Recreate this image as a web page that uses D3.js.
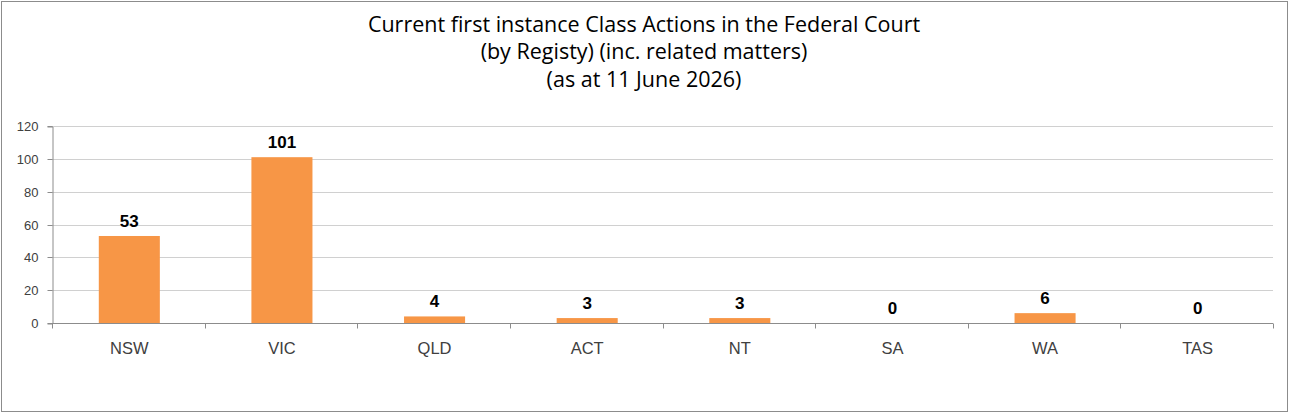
<!DOCTYPE html>
<html>
<head>
<meta charset="utf-8">
<script src="https://cdn.jsdelivr.net/npm/d3@7"></script>
<style>
  body { margin: 0; background: #fff; }
</style>
</head>
<body>
<div class="container"></div>
<script>
// registries and their current class action counts
const registries = ['NSW', 'VIC', 'QLD', 'ACT', 'NT', 'SA', 'WA', 'TAS'];
const counts = [53, 101, 4, 3, 3, 0, 6, 0];
const yTicks = [0, 20, 40, 60, 80, 100, 120];
const titleLines = [
  'Current first instance Class Actions in the Federal Court',
  '(by Registy) (inc. related matters)',
  '(as at 11 June 2026)'
];

const width = 1289, height = 413;
const margin = { top: 126, right: 16, bottom: 90, left: 52 };

const svg = d3.select('.container')
  .append('svg')
  .attr('width', width)
  .attr('height', height);

// chart frame
svg.append('rect')
  .attr('x', 1.5).attr('y', 1.5)
  .attr('width', width - 3).attr('height', height - 3)
  .attr('fill', '#fff')
  .attr('stroke', '#8c8c8c');

// title
svg.append('g')
  .selectAll('text')
  .data(titleLines)
  .join('text')
  .attr('x', 644)
  .attr('y', (d, i) => 31.5 + i * 27.5)
  .attr('text-anchor', 'middle')
  .attr('font-family', 'Open Sans, sans-serif')
  .attr('font-size', 21.5)
  .attr('fill', '#000')
  .text(d => d);

const x = d3.scaleBand()
  .domain(registries)
  .range([margin.left, width - margin.right])
  .paddingInner(0.6)
  .paddingOuter(0.3);

const xOuter = d3.scaleBand()
  .domain(registries)
  .range([margin.left, width - margin.right]);

const y = d3.scaleLinear()
  .domain([0, 120])
  .range([height - margin.bottom, margin.top]);

// gridlines
svg.append('g')
  .selectAll('line')
  .data(yTicks.slice(1))
  .join('line')
  .attr('x1', margin.left).attr('x2', width - margin.right)
  .attr('y1', d => Math.round(y(d)) + 0.5).attr('y2', d => Math.round(y(d)) + 0.5)
  .attr('stroke', '#d0d0d0');

// y axis
const yAxis = svg.append('g')
  .attr('transform', `translate(${margin.left + 0.5},0.5)`)
  .call(d3.axisLeft(y).tickValues(yTicks).tickSize(5).tickPadding(9));
yAxis.select('.domain').attr('stroke', '#8c8c8c');
yAxis.selectAll('.tick line').attr('stroke', '#8c8c8c');
yAxis.selectAll('.tick text')
  .attr('font-family', 'Liberation Sans, Arial, sans-serif')
  .attr('font-size', 13)
  .attr('fill', '#404040');
yAxis.selectAll('.tick').attr('transform', d => `translate(0,${Math.round(y(d))})`);

// bars
svg.append('g')
  .selectAll('rect')
  .data(counts)
  .join('rect')
  .attr('x', (d, i) => x(registries[i]) + 1)
  .attr('width', x.bandwidth())
  .attr('y', d => y(d))
  .attr('height', d => y(0) - y(d))
  .attr('fill', '#f79646');

// x axis line and boundary ticks
const y0 = Math.round(y(0)) + 0.5;
svg.append('line')
  .attr('x1', margin.left).attr('x2', width - margin.right)
  .attr('y1', y0).attr('y2', y0)
  .attr('stroke', '#8c8c8c');
const bounds = registries.map(r => xOuter(r)).concat([width - margin.right]);
svg.append('g')
  .selectAll('line')
  .data(bounds)
  .join('line')
  .attr('x1', d => Math.round(d) + 0.5).attr('x2', d => Math.round(d) + 0.5)
  .attr('y1', y0).attr('y2', y0 + 5)
  .attr('stroke', '#8c8c8c');

// category labels
svg.append('g')
  .selectAll('text')
  .data(registries)
  .join('text')
  .attr('x', d => xOuter(d) + xOuter.bandwidth() / 2 + 1)
  .attr('y', 354)
  .attr('text-anchor', 'middle')
  .attr('font-family', 'Liberation Sans, Arial, sans-serif')
  .attr('font-size', 16.5)
  .attr('fill', '#404040')
  .text(d => d);

// value labels
svg.append('g')
  .selectAll('text')
  .data(counts)
  .join('text')
  .attr('x', (d, i) => x(registries[i]) + x.bandwidth() / 2 + 1)
  .attr('y', d => y(d) - 9)
  .attr('text-anchor', 'middle')
  .attr('font-family', 'Liberation Sans, Arial, sans-serif')
  .attr('font-weight', 'bold')
  .attr('font-size', 17)
  .attr('fill', '#000')
  .text(d => d);
</script>
</body>
</html>
